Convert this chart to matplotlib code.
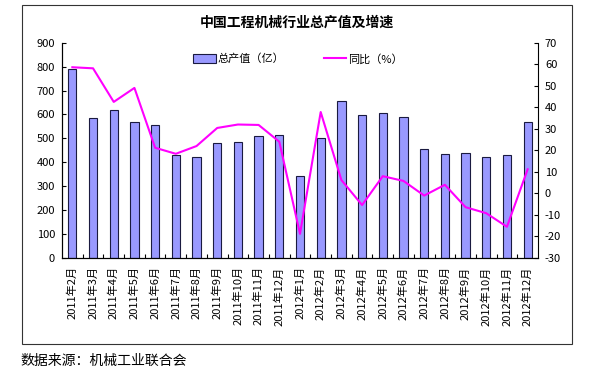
import matplotlib
matplotlib.use("Agg")
import matplotlib.pyplot as plt
from matplotlib.patches import Rectangle, Patch
from matplotlib.lines import Line2D
import numpy as np

plt.rcParams['font.family'] = ['Noto Sans CJK SC', 'DejaVu Sans']
plt.rcParams['axes.unicode_minus'] = False

# monthly data, 2011-02 .. 2012-12
months = ["2011年2月", "2011年3月", "2011年4月", "2011年5月", "2011年6月",
          "2011年7月", "2011年8月", "2011年9月", "2011年10月", "2011年11月",
          "2011年12月", "2012年1月", "2012年2月", "2012年3月", "2012年4月",
          "2012年5月", "2012年6月", "2012年7月", "2012年8月", "2012年9月",
          "2012年10月", "2012年11月", "2012年12月"]
output = [788, 587, 618, 569, 554, 429, 423, 479, 483, 512, 516, 343, 501,
          655, 598, 608, 591, 456, 433, 441, 423, 429, 567]
growth = [58.6, 58.1, 42.5, 49.0, 21.2, 18.4, 22.0, 30.4, 32.0, 31.8, 24.0,
          -18.8, 37.8, 6.2, -5.4, 8.0, 5.8, -1.0, 4.0, -6.4, -9.2, -15.5, 11.2]

x = np.arange(len(months))

fig = plt.figure(figsize=(6.06, 3.76), dpi=100)
ax = fig.add_axes([62 / 606, 1 - 258 / 376, 476 / 606, 215.3 / 376])
ax2 = ax.twinx()

ax.bar(x, output, width=0.4, color="#9999FF", edgecolor="#1a1a40", linewidth=0.8)
ax2.plot(x, growth, color="#FF00FF", linewidth=1.5)

ax.set_xlim(-0.5, len(months) - 0.5)
ax.set_ylim(0, 900)
ax.set_yticks(range(0, 901, 100))
ax2.set_ylim(-30, 70)
ax2.set_yticks(range(-30, 71, 10))

ax.set_xticks(x)
ax.set_xticklabels(months, rotation=90, fontsize=8)
ax.set_xticks(x[:-1] + 0.5, minor=True)
ax.tick_params(axis='x', which='major', length=0, pad=6)
ax.tick_params(axis='x', which='minor', length=3, direction='in', width=0.8)
ax.tick_params(axis='y', direction='in', length=3, width=0.8, labelsize=8, pad=5)
ax2.tick_params(axis='y', direction='in', length=3, width=0.8, labelsize=8, pad=5)

for a in (ax, ax2):
    a.spines['top'].set_visible(False)
    for s in ('left', 'right', 'bottom'):
        a.spines[s].set_linewidth(0.8)
ax.spines['right'].set_visible(False)

handles = [Patch(facecolor="#9999FF", edgecolor="#1a1a40", linewidth=0.8),
           Line2D([0], [0], color="#FF00FF", linewidth=1.5)]
fig.legend(handles, ["总产值（亿）", "同比（%）"], ncol=2, frameon=False,
           fontsize=8, loc='center', bbox_to_anchor=(298 / 606, 1 - 59 / 376),
           handlelength=2.0, handleheight=0.8, handletextpad=0.2, columnspacing=3.5)

fig.text(297 / 606, 1 - 23 / 376, "中国工程机械行业总产值及增速", ha='center', va='center',
         fontsize=10, fontweight='bold')
fig.text(20 / 606, 1 - 361 / 376, "数据来源：机械工业联合会", ha='left', va='center',
         fontsize=10)

fig.patches.append(Rectangle((22 / 606, 1 - 344 / 376), 550 / 606, 339 / 376,
                             transform=fig.transFigure, fill=False,
                             edgecolor="#333333", linewidth=0.8))

fig.savefig("out.png", dpi=100)
